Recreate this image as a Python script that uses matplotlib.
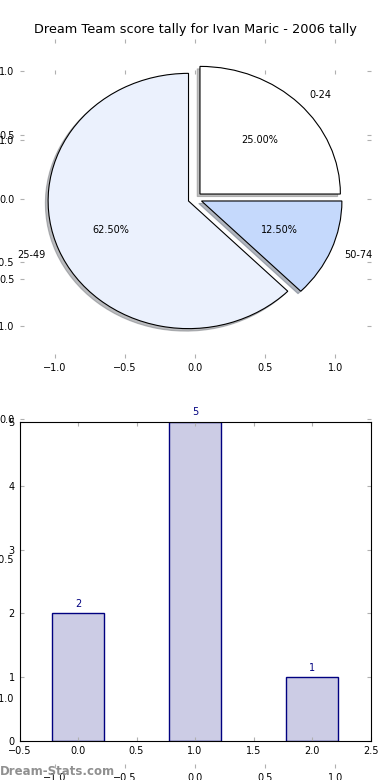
import matplotlib
matplotlib.use("Agg")
import matplotlib.pyplot as plt

# score brackets and how often each was hit
labels = ['0-24', '25-49', '50-74']
counts = [2, 5, 1]
pie_colors = ['#ffffff', '#ebf1fd', '#c5d9fc']
bar_pos = [0, 1, 2]

pie_ticks = [-1.0, -0.5, 0.0, 0.5, 1.0]

plt.rcParams['font.size'] = 7
plt.rcParams['xtick.direction'] = 'in'
plt.rcParams['ytick.direction'] = 'in'
plt.rcParams['xtick.top'] = True
plt.rcParams['ytick.right'] = True
plt.rcParams['xtick.color'] = '#b0b0b0'
plt.rcParams['ytick.color'] = '#b0b0b0'
plt.rcParams['xtick.labelcolor'] = 'black'
plt.rcParams['ytick.labelcolor'] = 'black'
plt.rcParams['xtick.major.size'] = 3
plt.rcParams['ytick.major.size'] = 3


def setup_pie_axes(ax):
    ax.set_frame_on(False)
    ax.set_aspect('auto')
    ax.set_xlim(-1.25, 1.25)
    ax.set_ylim(-1.25, 1.25)
    ax.set_xticks(pie_ticks)
    ax.set_yticks(pie_ticks)


fig = plt.figure(figsize=(3.9, 7.8), dpi=100)
fig.subplots_adjust(left=0.05, right=0.95, top=0.95, bottom=0.05, hspace=0.2)

# stray axes left over behind the two charts
ghost = fig.add_axes([0.05, 0.0154, 0.9, 0.895])
ghost.patch.set_visible(False)
setup_pie_axes(ghost)

ax1 = fig.add_subplot(211)
wedges, texts, autotexts = ax1.pie(counts, labels=labels, colors=pie_colors,
                                   explode=[0.05, 0.05, 0.05],
                                   shadow={'ox': -0.014, 'oy': -0.014, 'shade': 0.5},
                                   autopct='%1.2f%%',
                                   wedgeprops={'edgecolor': 'black', 'linewidth': 0.8})
setup_pie_axes(ax1)
ax1.set_title('Dream Team score tally for Ivan Maric - 2006 tally', fontsize=9.3, pad=4)

ax2 = fig.add_subplot(212)
bars = ax2.bar(bar_pos, counts, width=0.45, color='#cccce5', edgecolor='#000080')
for x, c in zip(bar_pos, counts):
    ax2.text(x, c + 0.07, str(c), ha='center', va='bottom', color='#000080')
ax2.set_xlim(-0.5, 2.5)
ax2.set_ylim(0, 5)

fig.text(0.0, 0.006, 'Dream-Stats.com', color='#909090', fontsize=8.5, fontweight='semibold')

fig.savefig('out.png', dpi=100)
